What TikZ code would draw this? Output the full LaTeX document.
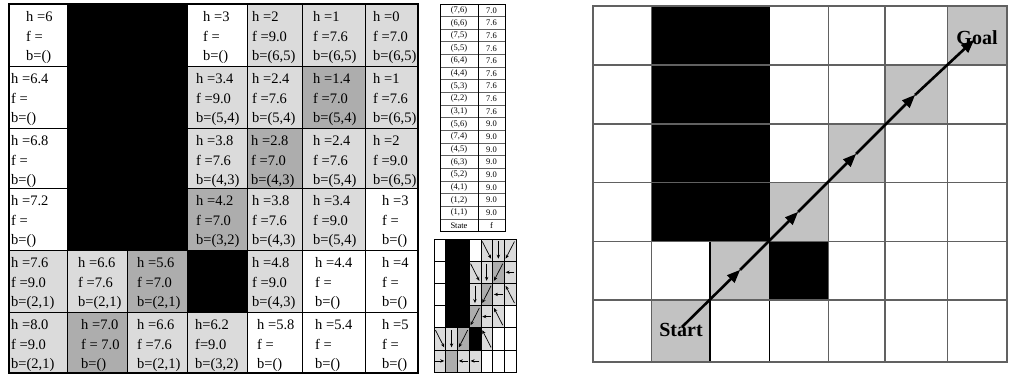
\documentclass[tikz,border=0pt]{standalone}
\usepackage{fontspec}
\setmainfont{Liberation Serif}
\usetikzlibrary{arrows.meta,calc}
\definecolor{lst}{gray}{0.86}
\definecolor{dst}{gray}{0.68}
\definecolor{bst}{gray}{0.76}
\definecolor{gline}{gray}{0.38}
\newcommand\cellt[6]{%
  \node[txt] (#1h) at (#2,#3+17.5) {#4};
  \node[txt] (#1f) at (#2,#3+37) {#5};
  \node[txt] (#1b) at (#2,#3+56.5) {#6};}
\newcommand\pathseg[2]{%
  \draw[pline] (#1) -- (#2);
  \path ($(#2)!13pt!(#1)$) coordinate (tmpb);
  \fill (#2) -- ($(tmpb)!5.5pt!90:(#2)$) -- ($(tmpb)!5.5pt!-90:(#2)$) -- cycle;}
\begin{document}
\begin{tikzpicture}[x=1pt,y=-1pt,
  txt/.style={anchor=base west,inner sep=0pt,font=\fontsize{14.5}{16}\selectfont},
  qtxt/.style={anchor=center,inner sep=0pt,font=\fontsize{8.5}{9}\selectfont},
  sarr/.style={-{Stealth[length=4pt,width=3.4pt]},line width=0.7pt},
  pline/.style={line width=2.6pt,shorten >=8pt},
  lbl/.style={font=\fontsize{20}{20}\selectfont\bfseries,inner sep=0pt}]
\useasboundingbox (0,0) rectangle (1009,375);
\def\LX{{9,67,127,187,247,302,365,418}}
\def\LY{{4,66,128,188,250,312,373}}
% ---------- left table fills
\foreach \c/\r in {5/1,6/1,7/1,4/2,5/2,7/2,4/3,6/3,7/3,5/4,6/4,1/5,2/5,5/5,1/6,3/6,4/6}{
  \pgfmathsetmacro\xa{\LX[\c-1]}\pgfmathsetmacro\xb{\LX[\c]}
  \pgfmathsetmacro\ya{\LY[\r-1]}\pgfmathsetmacro\yb{\LY[\r]}
  \fill[lst] (\xa,\ya) rectangle (\xb,\yb);}
\foreach \c/\r in {6/2,5/3,4/4,3/5,2/6}{
  \pgfmathsetmacro\xa{\LX[\c-1]}\pgfmathsetmacro\xb{\LX[\c]}
  \pgfmathsetmacro\ya{\LY[\r-1]}\pgfmathsetmacro\yb{\LY[\r]}
  \fill[dst] (\xa,\ya) rectangle (\xb,\yb);}
\fill (67,4) rectangle (187,250);
\fill (187,250) rectangle (247,312);
\foreach \x in {67,127,187,247,302,365} \draw[line width=0.8pt] (\x,4) -- (\x,373);
\foreach \y in {66,128,188,250,312} \draw[line width=1pt] (9,\y) -- (418,\y);
\draw[line width=1.3pt] (9,4) rectangle (418,373);
% ---------- left table texts
\cellt{a11}{26}{4}{h =6}{f =}{b=()}
\cellt{a14}{203}{4}{h =3}{f =}{b=()}
\cellt{a15}{252}{4}{h =2}{f =9.0}{b=(6,5)}
\cellt{a16}{313}{4}{h =1}{f =7.6}{b=(6,5)}
\cellt{a17}{373}{4}{h =0}{f =7.0}{b=(6,5)}
\cellt{a21}{11}{66}{h =6.4}{f =}{b=()}
\cellt{a24}{196}{66}{h =3.4}{f =9.0}{b=(5,4)}
\cellt{a25}{252}{66}{h =2.4}{f =7.6}{b=(5,4)}
\cellt{a26}{313}{66}{h =1.4}{f =7.0}{b=(5,4)}
\cellt{a27}{373}{66}{h =1}{f =7.6}{b=(6,5)}
\cellt{a31}{11}{128}{h =6.8}{f =}{b=()}
\cellt{a34}{196}{128}{h =3.8}{f =7.6}{b=(4,3)}
\cellt{a35}{251}{128}{h =2.8}{f =7.0}{b=(4,3)}
\cellt{a36}{313}{128}{h =2.4}{f =7.6}{b=(5,4)}
\cellt{a37}{373}{128}{h =2}{f =9.0}{b=(6,5)}
\cellt{a41}{11}{188}{h =7.2}{f =}{b=()}
\cellt{a44}{196}{188}{h =4.2}{f =7.0}{b=(3,2)}
\cellt{a45}{252}{188}{h =3.8}{f =7.6}{b=(4,3)}
\cellt{a46}{313}{188}{h =3.4}{f =9.0}{b=(5,4)}
\cellt{a47}{382}{188}{h =3}{f =}{b=()}
\cellt{a51}{11}{250}{h =7.6}{f =9.0}{b=(2,1)}
\cellt{a52}{78}{250}{h =6.6}{f =7.6}{b=(2,1)}
\cellt{a53}{137}{250}{h =5.6}{f =7.0}{b=(2,1)}
\cellt{a55}{252}{250}{h =4.8}{f =9.0}{b=(4,3)}
\cellt{a56}{315}{250}{h =4.4}{f =}{b=()}
\cellt{a57}{382}{250}{h =4}{f =}{b=()}
\cellt{a61}{11}{312}{h =8.0}{f =9.0}{b=(2,1)}
\cellt{a62}{81}{312}{h =7.0}{f = 7.0}{b=()}
\cellt{a63}{137}{312}{h =6.6}{f =7.6}{b=(2,1)}
\cellt{a64}{195}{312}{h=6.2}{f=9.0}{b=(3,2)}
\cellt{a65}{257}{312}{h =5.8}{f =}{b=()}
\cellt{a66}{315}{312}{h =5.4}{f =}{b=()}
\cellt{a67}{382}{312}{h =5}{f =}{b=()}
% ---------- queue table
\foreach \i in {1,...,17} \draw[gline,line width=1pt] (440,{4+\i*12.65}) -- (505,{4+\i*12.65});
\draw[line width=0.8pt] (478,4) -- (478,231.7);
\draw[line width=0.9pt] (440,4) rectangle (505,231.7);
\foreach \i/\s/\f in {1/{(7,6)}/7.0,2/{(6,6)}/7.6,3/{(7,5)}/7.6,4/{(5,5)}/7.6,5/{(6,4)}/7.6,6/{(4,4)}/7.6,7/{(5,3)}/7.6,8/{(2,2)}/7.6,9/{(3,1)}/7.6,10/{(5,6)}/9.0,11/{(7,4)}/9.0,12/{(4,5)}/9.0,13/{(6,3)}/9.0,14/{(5,2)}/9.0,15/{(4,1)}/9.0,16/{(1,2)}/9.0,17/{(1,1)}/9.0,18/State/f}{
  \node[qtxt] (qs\i) at (459,{4+(\i-0.5)*12.65}) {\s};
  \node[qtxt] (qf\i) at (491.5,{4+(\i-0.5)*12.65}) {\f};}
% ---------- small grid
\def\SW{11.7}\def\SH{22.17}
\foreach \c/\r in {5/1,6/1,7/1,4/2,5/2,7/2,4/3,6/3,7/3,5/4,6/4,1/5,2/5,5/5,1/6,3/6,4/6}
  \fill[lst] ({434+(\c-1)*\SW},{239+(\r-1)*\SH}) rectangle ++(\SW,\SH);
\foreach \c/\r in {6/2,5/3,4/4,3/5,2/6}
  \fill[dst] ({434+(\c-1)*\SW},{239+(\r-1)*\SH}) rectangle ++(\SW,\SH);
\fill ({434+\SW},239) rectangle ({434+3*\SW},{239+4*\SH});
\fill ({434+3*\SW},{239+4*\SH}) rectangle ({434+4*\SW},{239+5*\SH});
\foreach \i in {1,...,6} \draw[line width=0.6pt] ({434+\i*\SW},239) -- ({434+\i*\SW},372);
\foreach \i in {1,...,5} \draw[line width=0.6pt] (434,{239+\i*\SH}) -- ({434+7*\SW},{239+\i*\SH});
\draw[line width=0.8pt] (434,239) rectangle ({434+7*\SW},372);
\foreach \r/\c/\dx/\dy in {1/5/1/1,1/6/0/1,1/7/-1/1,
  2/4/1/1,2/5/0/1,2/6/-1/1,2/7/-1/0,
  3/4/0/1,3/5/-1/1,3/6/-1/0,3/7/-1/-1,
  4/4/-1/1,4/5/-1/0,4/6/-1/-1,
  5/1/1/1,5/2/0/1,5/3/-1/1,5/5/-1/-1,
  6/1/1/0,6/3/-1/0,6/4/-1/0}{
  \pgfmathsetmacro\cx{434+(\c-0.5)*\SW}
  \pgfmathsetmacro\cy{239+(\r-0.5)*\SH}
  \draw[sarr] ({\cx-4.4*(\dx)},{\cy-8.6*(\dy)}) -- ({\cx+4.4*(\dx)},{\cy+8.6*(\dy)});}
% ---------- right grid
\def\GX{{592.7,651.7,710,769.3,828.3,885,947.3,1006.7}}
\def\GY{{6,65,124,182.7,241.7,300,361.7}}
\foreach \c/\r in {7/1,6/2,5/3,4/4,3/5,2/6}{
  \pgfmathsetmacro\xa{\GX[\c-1]}\pgfmathsetmacro\xb{\GX[\c]}
  \pgfmathsetmacro\ya{\GY[\r-1]}\pgfmathsetmacro\yb{\GY[\r]}
  \fill[bst] (\xa,\ya) rectangle (\xb,\yb);}
\fill (651.7,6) rectangle (769.3,241.7);
\fill (769.3,241.7) rectangle (828.3,300);
\foreach \x in {651.7,828.3,885,947.3} \draw[gline,line width=1.3pt] (\x,6) -- (\x,361.7);
\foreach \x in {710,769.3} \draw[line width=1.2pt] (\x,6) -- (\x,361.7);
\foreach \y in {65,124,182.7,241.7,300} \draw[gline,line width=1.3pt] (592.7,\y) -- (1006.7,\y);
\draw[gline,line width=2pt] (592.7,6) rectangle (1006.7,361.7);
\node[lbl] (start) at (681,330) {Start};
\node[lbl] (goal) at (977,38) {Goal};
\coordinate (S) at (682,327);
\coordinate (A1) at (740,270);
\coordinate (A2) at (798,212);
\coordinate (A3) at (856,154);
\coordinate (A4) at (915,95);
\coordinate (G) at (974,40);
\pathseg{S}{A1}
\pathseg{A1}{A2}
\pathseg{A2}{A3}
\pathseg{A3}{A4}
\pathseg{A4}{G}
\end{tikzpicture}
\end{document}
